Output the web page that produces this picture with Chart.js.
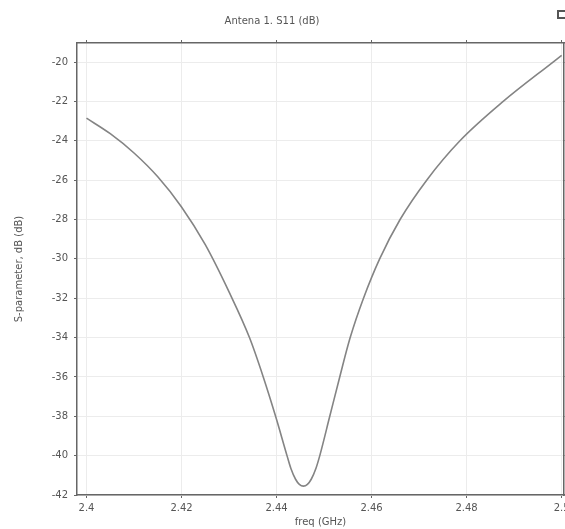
<!DOCTYPE html>
<html>
<head>
<meta charset="utf-8">
<script src="https://cdn.jsdelivr.net/npm/chart.js@4"></script>
<style>
  html, body { margin: 0; padding: 0; background: #fff; overflow: hidden; }
  #wrap { width: 580px; height: 529px; }
</style>
</head>
<body>
<div id="wrap"><canvas id="s11Chart" width="580" height="529"></canvas></div>
<script>
// freq (GHz) / S11 (dB)
const freqs = [2.400, 2.405, 2.410, 2.415, 2.420, 2.425, 2.430, 2.4343, 2.4372,
               2.4398, 2.4422, 2.4430, 2.4440, 2.4448, 2.44565, 2.4465, 2.4473, 2.4483, 2.4491,
               2.4512, 2.4533, 2.4555, 2.4583, 2.4617, 2.4660, 2.4716, 2.4786, 2.4877, 2.4982,
               2.5000];
const s11 = [-22.85, -23.64, -24.62, -25.83, -27.36, -29.28, -31.68, -34.0, -36.0,
             -38.0, -40.0, -40.64, -41.2, -41.46, -41.55, -41.46, -41.2, -40.64, -40.0,
             -38.0, -36.0, -34.0, -32.0, -30.0, -28.0, -26.0, -24.0, -22.0, -20.0,
             -19.66];

const xTicks = [2.4, 2.42, 2.44, 2.46, 2.48, 2.5];
const yTicks = [-20, -22, -24, -26, -28, -30, -32, -34, -36, -38, -40, -42];

const chartTitle = 'Antena 1. S11 (dB)';
const xTitle = 'freq (GHz)';
const yTitle = 'S-parameter, dB (dB)';

const FONT = { family: 'DejaVu Sans', size: 10 };
const TEXT = '#555';
const AXIS = '#666';

// title + little icon drawn on top of the canvas
const titlePlugin = {
    id: 'plotTitle',
    afterDraw(chart) {
        const ctx = chart.ctx;
        ctx.save();
        ctx.font = '10px "DejaVu Sans"';
        ctx.fillStyle = TEXT;
        ctx.textAlign = 'center';
        ctx.textBaseline = 'middle';
        ctx.fillText(chartTitle, 272, 21);
        ctx.strokeStyle = '#555';
        ctx.lineWidth = 2;
        ctx.strokeRect(558, 11, 8, 7);
        ctx.restore();
    }
};

const pinTicks = (values) => (scale) => {
    scale.ticks = values.map(v => ({ value: v }));
};

const points = freqs.map((f, i) => ({ x: f, y: s11[i] }));

new Chart(document.getElementById('s11Chart').getContext('2d'), {
    type: 'line',
    data: {
        datasets: [{
            data: points,
            borderColor: '#848484',
            borderWidth: 1.6,
            pointRadius: 0,
            cubicInterpolationMode: 'monotone',
            fill: false
        }]
    },
    options: {
        responsive: false,
        animation: false,
        layout: { padding: { top: 40, right: 13, bottom: 0, left: 0 } },
        plugins: {
            legend: { display: false },
            tooltip: { enabled: false }
        },
        scales: {
            x: {
                type: 'linear',
                position: 'bottom',
                min: 2.398,
                max: 2.5005,
                afterBuildTicks: pinTicks(xTicks),
                afterFit: (s) => { s.height = 34; },
                grid: { color: '#ececec', tickColor: AXIS, tickLength: 3 },
                border: { color: AXIS, width: 1.5 },
                ticks: { font: FONT, color: TEXT, padding: 4, maxRotation: 0,
                         callback: (v) => String(+v.toFixed(2)) },
                title: { display: true, text: xTitle, font: FONT, color: TEXT,
                         padding: { top: 0, bottom: 1 } }
            },
            x2: {
                type: 'linear',
                position: 'top',
                min: 2.398,
                max: 2.5005,
                afterBuildTicks: pinTicks(xTicks),
                afterFit: (s) => { s.height = 3; },
                grid: { drawOnChartArea: false, tickColor: AXIS, tickLength: 3 },
                border: { color: AXIS, width: 1.5 },
                ticks: { display: false }
            },
            y: {
                type: 'linear',
                position: 'left',
                min: -42,
                max: -19.03,
                afterBuildTicks: pinTicks(yTicks),
                afterFit: (s) => { s.width = 77; },
                grid: { color: '#ececec', tickColor: AXIS, tickLength: 3 },
                border: { color: AXIS, width: 1.5 },
                ticks: { font: FONT, color: TEXT, padding: 6 },
                title: { display: true, text: yTitle, font: FONT, color: TEXT,
                         padding: { top: 13, bottom: 0 } }
            },
            y2: {
                type: 'linear',
                position: 'right',
                min: -42,
                max: -19.03,
                afterBuildTicks: pinTicks(yTicks),
                afterFit: (s) => { s.width = 3; },
                grid: { drawOnChartArea: false, tickColor: AXIS, tickLength: 3 },
                border: { color: AXIS, width: 1.5 },
                ticks: { display: false }
            }
        }
    },
    plugins: [titlePlugin]
});
</script>
</body>
</html>
